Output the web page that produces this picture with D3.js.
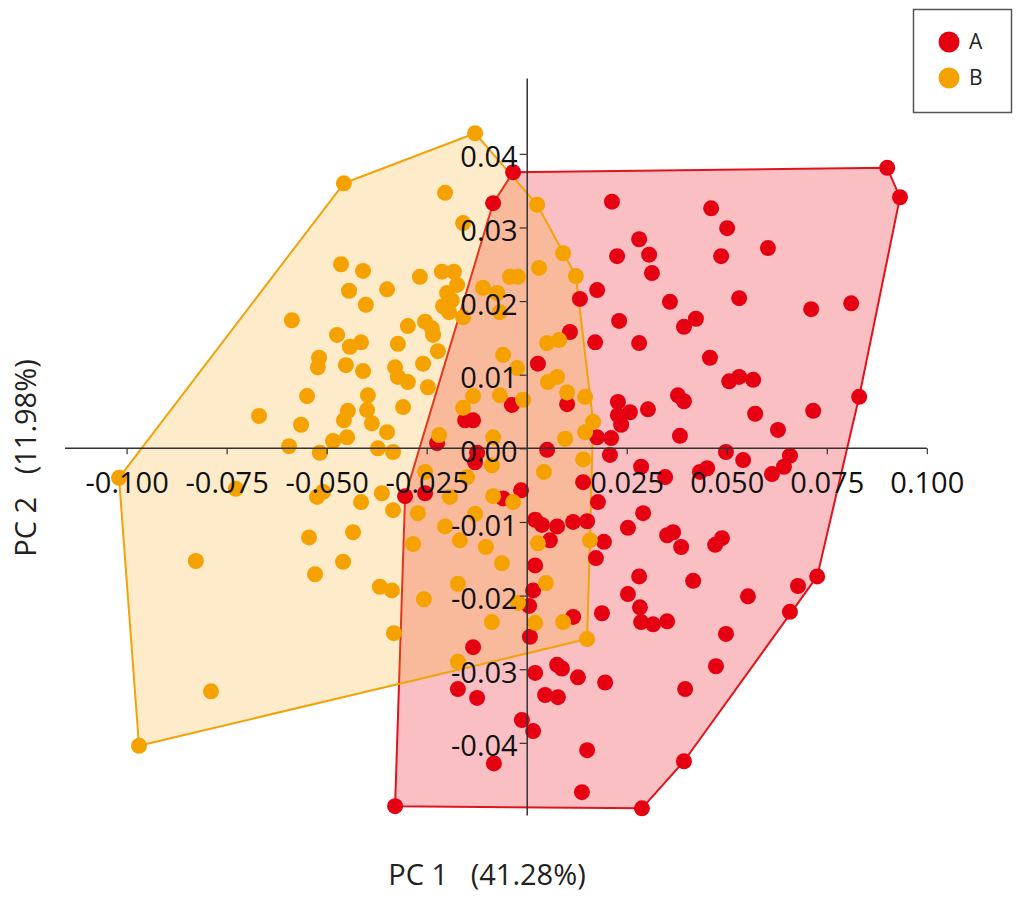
<!DOCTYPE html>
<html>
<head>
<meta charset="utf-8">
<script src="https://cdn.jsdelivr.net/npm/d3@7"></script>
<style>
  html, body { margin: 0; padding: 0; background: #fff; }
  svg { display: block; font-family: "Open Sans", "Noto Sans", sans-serif; }
</style>
</head>
<body>
<svg id="chart" width="1022" height="904"></svg>
<script>
// ── Data ──────────────────────────────────────────────────────────────────────
const groups = ['A', 'B'];

// PCA scores [PC1, PC2] for group A
const scoresA = [
  [-0.0034, 0.0375], [-0.0084, 0.0333], [0.0133, 0.0203], [0.0176, 0.0215], [0.0108, 0.0158],
  [0.0171, 0.0144], [0.0028, 0.0115], [-0.0037, 0.0059], [0.0101, 0.0060], [-0.0154, 0.0038],
  [-0.0134, 0.0038], [-0.0224, 0.0007], [-0.0124, -0.0006], [0.0051, -0.0002], [0.0176, 0.0015],
  [0.0901, 0.0381], [0.0933, 0.0341], [0.0213, 0.0335], [0.0461, 0.0326], [0.0501, 0.0299],
  [0.0281, 0.0284], [0.0226, 0.0261], [0.0306, 0.0263], [0.0486, 0.0261], [0.0603, 0.0272],
  [0.0313, 0.0238], [0.0358, 0.0199], [0.0531, 0.0204], [0.0711, 0.0189], [0.0811, 0.0197],
  [0.0231, 0.0173], [0.0393, 0.0165], [0.0423, 0.0176], [0.0281, 0.0143], [0.0458, 0.0123],
  [0.0506, 0.0091], [0.0531, 0.0097], [0.0566, 0.0093], [0.0378, 0.0072], [0.0393, 0.0064],
  [0.0228, 0.0063], [0.0228, 0.0045], [0.0258, 0.0049], [0.0236, 0.0032], [0.0303, 0.0053],
  [0.0571, 0.0047], [0.0716, 0.0051], [0.0831, 0.0070], [0.0628, 0.0025], [0.0383, 0.0017],
  [0.0211, 0.0014], [0.0208, -0.0009], [0.0498, -0.0005], [0.0541, -0.0016], [0.0658, -0.0010],
  [0.0643, -0.0025], [0.0286, -0.0025], [0.0451, -0.0027], [0.0433, -0.0032], [0.0613, -0.0035],
  [0.0346, -0.0039], [0.0291, -0.0088], [0.0253, -0.0108], [0.0351, -0.0118], [0.0366, -0.0114],
  [0.0386, -0.0134], [0.0471, -0.0131], [0.0488, -0.0122], [0.0281, -0.0174], [0.0416, -0.0180],
  [0.0253, -0.0198], [0.0283, -0.0216], [0.0286, -0.0236], [0.0316, -0.0239], [0.0351, -0.0235],
  [0.0553, -0.0201], [0.0678, -0.0187], [0.0726, -0.0174], [0.0658, -0.0222], [0.0498, -0.0252],
  [0.0473, -0.0296], [0.0396, -0.0327], [0.0393, -0.0425], [0.0288, -0.0489], [-0.0129, -0.0019],
  [-0.0304, -0.0065], [-0.0254, -0.0061], [-0.0059, -0.0068], [-0.0014, -0.0057], [0.0141, -0.0046],
  [0.0178, -0.0073], [0.0021, -0.0097], [0.0038, -0.0104], [0.0076, -0.0106], [0.0058, -0.0125],
  [0.0116, -0.0100], [0.0151, -0.0099], [0.0193, -0.0127], [0.0021, -0.0159], [0.0173, -0.0149],
  [0.0016, -0.0193], [0.0006, -0.0214], [0.0188, -0.0224], [0.0116, -0.0229], [0.0008, -0.0256],
  [-0.0134, -0.0270], [0.0076, -0.0294], [0.0088, -0.0299], [0.0021, -0.0305], [0.0128, -0.0311],
  [0.0196, -0.0318], [-0.0172, -0.0327], [-0.0124, -0.0339], [0.0046, -0.0335], [0.0078, -0.0338],
  [-0.0012, -0.0369], [0.0016, -0.0384], [0.0151, -0.0410], [-0.0082, -0.0428], [0.0138, -0.0467],
  [-0.0329, -0.0486]
];

// PCA scores [PC1, PC2] for group B
const scoresB = [
  [-0.0129, 0.0428], [-0.0457, 0.0360], [-0.0204, 0.0347], [-0.0159, 0.0306], [0.0026, 0.0331],
  [0.0091, 0.0265], [0.0123, 0.0234], [0.0031, 0.0245], [-0.0022, 0.0233], [-0.0042, 0.0233],
  [-0.0464, 0.0250], [-0.0409, 0.0241], [-0.0267, 0.0233], [-0.0212, 0.0240], [-0.0182, 0.0240],
  [-0.0444, 0.0214], [-0.0349, 0.0216], [-0.0174, 0.0222], [-0.0402, 0.0195], [-0.0199, 0.0211],
  [-0.0187, 0.0201], [-0.0209, 0.0193], [-0.0194, 0.0185], [-0.0159, 0.0178], [-0.0109, 0.0218],
  [-0.0074, 0.0211], [-0.0067, 0.0185], [-0.0297, 0.0166], [-0.0254, 0.0172], [-0.0237, 0.0163],
  [-0.0234, 0.0154], [-0.0474, 0.0154], [-0.0442, 0.0138], [-0.0414, 0.0144], [-0.0322, 0.0142],
  [-0.0222, 0.0132], [-0.0519, 0.0123], [-0.0522, 0.0110], [-0.0452, 0.0113], [-0.0409, 0.0105],
  [-0.0329, 0.0110], [-0.0322, 0.0097], [-0.0297, 0.0090], [-0.0259, 0.0115], [-0.0247, 0.0083],
  [-0.0059, 0.0127], [-0.0024, 0.0109], [0.0051, 0.0143], [0.0081, 0.0147], [0.0053, 0.0090],
  [0.0076, 0.0097], [0.0101, 0.0076], [0.0146, 0.0070], [-0.0067, 0.0072], [-0.0134, 0.0071],
  [-0.0009, 0.0066], [-0.0159, 0.0055], [-0.0549, 0.0071], [-0.0397, 0.0072], [-0.0399, 0.0052],
  [-0.0387, 0.0034], [-0.0457, 0.0038], [-0.0447, 0.0051], [-0.0309, 0.0056], [-0.0564, 0.0032],
  [-0.0349, 0.0022], [-0.0484, 0.0010], [-0.0449, 0.0015], [-0.0372, 0.0000], [-0.0334, -0.0005],
  [-0.0517, -0.0006], [-0.0219, 0.0018], [-0.0084, 0.0015], [0.0096, 0.0013], [0.0146, 0.0022],
  [0.0166, 0.0036], [0.0141, -0.0015], [-0.0587, 0.0174], [-0.0669, 0.0044], [-0.0594, 0.0003],
  [-0.0362, -0.0061], [-0.0334, -0.0084], [-0.0272, -0.0088], [-0.0254, -0.0032], [-0.0192, -0.0066],
  [-0.0149, -0.0039], [-0.0087, -0.0023], [-0.0084, -0.0065], [-0.0034, -0.0073], [0.0043, -0.0032],
  [-0.0129, -0.0089], [-0.0204, -0.0106], [-0.0167, -0.0125], [-0.0102, -0.0134], [-0.0284, -0.0130],
  [-0.0062, -0.0156], [0.0028, -0.0129], [0.0158, -0.0125], [0.0048, -0.0183], [-0.0172, -0.0184],
  [-0.0367, -0.0188], [-0.0337, -0.0193], [-0.0257, -0.0205], [-0.0022, -0.0210], [-0.0087, -0.0236],
  [0.0021, -0.0237], [0.0091, -0.0236], [0.0151, -0.0259], [-0.0332, -0.0251], [-0.0172, -0.0290],
  [-0.1019, -0.0040], [-0.0727, -0.0055], [-0.0524, -0.0066], [-0.0509, -0.0059], [-0.0414, -0.0073],
  [-0.0544, -0.0121], [-0.0434, -0.0114], [-0.0827, -0.0153], [-0.0459, -0.0154], [-0.0529, -0.0171],
  [-0.0789, -0.0330], [-0.0969, -0.0404]
];

const xTicks = [-0.100, -0.075, -0.050, -0.025, 0.025, 0.050, 0.075, 0.100];
const yTicks = [-0.04, -0.03, -0.02, -0.01, 0.00, 0.01, 0.02, 0.03, 0.04];
const xTitle = 'PC 1\u00a0\u00a0\u00a0(41.28%)';
const yTitle = 'PC 2\u00a0\u00a0\u00a0(11.98%)';

// ── Styling per group ─────────────────────────────────────────────────────────
const dotColor  = { A: '#e50012', B: '#f5a100' };
const hullFill  = { A: 'rgba(236, 20, 35, 0.27)', B: 'rgba(248, 168, 20, 0.23)' };
const hullLine  = { A: '#e0141e', B: '#f0a30a' };

// ── Scales ────────────────────────────────────────────────────────────────────
const x = d3.scaleLinear().domain([-0.1154, 0.0998]).range([65, 926]);
const y = d3.scaleLinear().domain([-0.0498, 0.0503]).range([815, 78]);

const svg = d3.select('#chart');
const byGroup = { A: scoresA, B: scoresB };

// ── Convex hulls ──────────────────────────────────────────────────────────────
groups.forEach(g => {
  const hull = d3.polygonHull(byGroup[g].map(d => [x(d[0]), y(d[1])]));
  svg.append('path')
    .attr('d', 'M' + hull.join('L') + 'Z')
    .attr('fill', hullFill[g])
    .attr('stroke', hullLine[g])
    .attr('stroke-width', 2)
    .attr('stroke-linejoin', 'round');
});

// ── Points (B drawn last, on top) ─────────────────────────────────────────────
groups.forEach(g => {
  svg.append('g')
    .selectAll('circle')
    .data(byGroup[g])
    .join('circle')
      .attr('cx', d => x(d[0]))
      .attr('cy', d => y(d[1]))
      .attr('r', 8)
      .attr('fill', dotColor[g]);
});

// ── Axes (crossing at the origin, drawn over the points) ──────────────────────
const xAxis = svg.append('g')
  .attr('transform', `translate(0,${y(0)})`)
  .call(d3.axisBottom(x).tickValues(xTicks).tickSize(6).tickSizeOuter(0)
    .tickFormat(d => d.toFixed(3)));

const yAxis = svg.append('g')
  .attr('transform', `translate(${x(0)},0)`)
  .call(d3.axisLeft(y).tickValues(yTicks).tickSize(7).tickSizeOuter(0)
    .tickFormat(d => d.toFixed(2)));

[xAxis, yAxis].forEach(ax => {
  ax.select('.domain').attr('stroke', '#333').attr('stroke-width', 1.5);
  ax.selectAll('.tick line').attr('stroke', '#333').attr('stroke-width', 1.2);
  ax.selectAll('.tick text')
    .attr('fill', '#111')
    .attr('font-size', 29)
    .attr('font-family', '"Open Sans", "Noto Sans", sans-serif');
});

// x domain runs a bit past the ticks on the left
xAxis.select('.domain').attr('d', `M${x.range()[0]},0H${x(0.1)}`);
xAxis.selectAll('.tick text').attr('y', 24);
yAxis.selectAll('.tick text').attr('x', -9).attr('dy', '0.45em');

// ── Axis titles ───────────────────────────────────────────────────────────────
svg.append('text')
  .attr('x', 487)
  .attr('y', 885)
  .attr('text-anchor', 'middle')
  .attr('font-size', 29)
  .attr('fill', '#222')
  .text(xTitle);

svg.append('text')
  .attr('transform', 'translate(36,458) rotate(-90)')
  .attr('text-anchor', 'middle')
  .attr('font-size', 29)
  .attr('fill', '#222')
  .text(yTitle);

// ── Legend ────────────────────────────────────────────────────────────────────
const legend = svg.append('g');

legend.append('rect')
  .attr('x', 913.5)
  .attr('y', 9.5)
  .attr('width', 98)
  .attr('height', 103)
  .attr('fill', '#fff')
  .attr('stroke', '#555')
  .attr('stroke-width', 1.5);

const rows = legend.selectAll('g.row')
  .data(groups)
  .join('g')
    .attr('class', 'row')
    .attr('transform', (d, i) => `translate(949,${42 + i * 36})`);

rows.append('circle')
  .attr('r', 10.5)
  .attr('fill', d => dotColor[d]);

rows.append('text')
  .attr('x', 20)
  .attr('y', 7)
  .attr('font-size', 21)
  .attr('fill', '#222')
  .text(d => d);
</script>
</body>
</html>
